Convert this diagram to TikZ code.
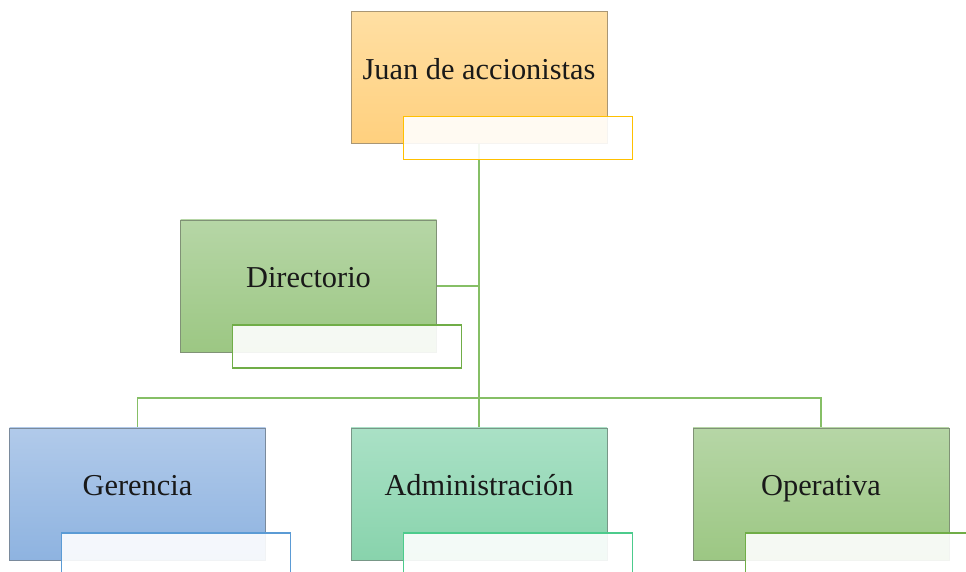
\documentclass[tikz,border=0pt]{standalone}
\usepackage{fontspec}
\setmainfont{Liberation Serif}
\usetikzlibrary{positioning,backgrounds}
\definecolor{accTop}{HTML}{FFDFA3}
\definecolor{accBot}{HTML}{FFD07E}
\definecolor{verTop}{HTML}{B6D6A6}
\definecolor{verBot}{HTML}{9CC783}
\definecolor{azuTop}{HTML}{B1CAEA}
\definecolor{azuBot}{HTML}{8EB3E0}
\definecolor{menTop}{HTML}{AAE1C6}
\definecolor{menBot}{HTML}{88D3AC}
\definecolor{amarillo}{HTML}{FFC000}
\definecolor{verde}{HTML}{70AD47}
\definecolor{azul}{HTML}{5B9BD5}
\definecolor{menta}{HTML}{4CCB8C}
\definecolor{linea}{HTML}{86BF66}
\begin{document}
\begin{tikzpicture}[
    box/.style 2 args={rectangle, minimum width=6.4cm, minimum height=3.3cm, inner sep=0pt,
        top color=#1, bottom color=#2, draw=#2!55!black!75, line width=0.6pt,
        text=black!90, font=\fontsize{21.6}{26}\selectfont, text height=0.5cm, text depth=0.4cm},
    tab/.style={rectangle, anchor=north west, minimum width=5.725cm, minimum height=1.075cm,
        inner sep=0pt, draw=#1, line width=0.8pt, fill=white, fill opacity=0.9},
    link/.style={draw=linea, line width=1.4pt}
]
    \useasboundingbox (0,0) rectangle (24.15,14.3);
    \clip (0,0) rectangle (24.15,14.3);

    % cajas
    \node [box={accTop}{accBot}] (acc) at (11.975,12.3625) {Juan de accionistas};
    \node [box={verTop}{verBot}] (dir) at (7.7125,7.15)    {Directorio};
    \node [box={azuTop}{azuBot}] (ger) at (3.4375,1.95)    {Gerencia};
    \node [box={menTop}{menBot}] (adm) at (11.975,1.95)    {Administración};
    \node [box={verTop}{verBot}] (ope) at (20.525,1.95)    {Operativa};

    % pestañas
    \node [tab=amarillo] (acc-tab) at ([shift={(1.3,0.7)}]acc.south west) {};
    \node [tab=verde]    (dir-tab) at ([shift={(1.3,0.7)}]dir.south west) {};
    \node [tab=azul]     (ger-tab) at ([shift={(1.3,0.7)}]ger.south west) {};
    \node [tab=menta]    (adm-tab) at ([shift={(1.3,0.7)}]adm.south west) {};
    \node [tab=verde]    (ope-tab) at ([shift={(1.3,0.7)}]ope.south west) {};

    \coordinate (bus) at ([yshift=0.75cm]adm.north);

    % lineas
    \begin{pgfonlayer}{background}
        \draw [link] (acc.south) -- (adm.north);
        \draw [link] (dir.east) -- (dir.east -| acc.south);
        \draw [link] (ger.north) |- (bus) -| (ope.north);
    \end{pgfonlayer}
\end{tikzpicture}
\end{document}
